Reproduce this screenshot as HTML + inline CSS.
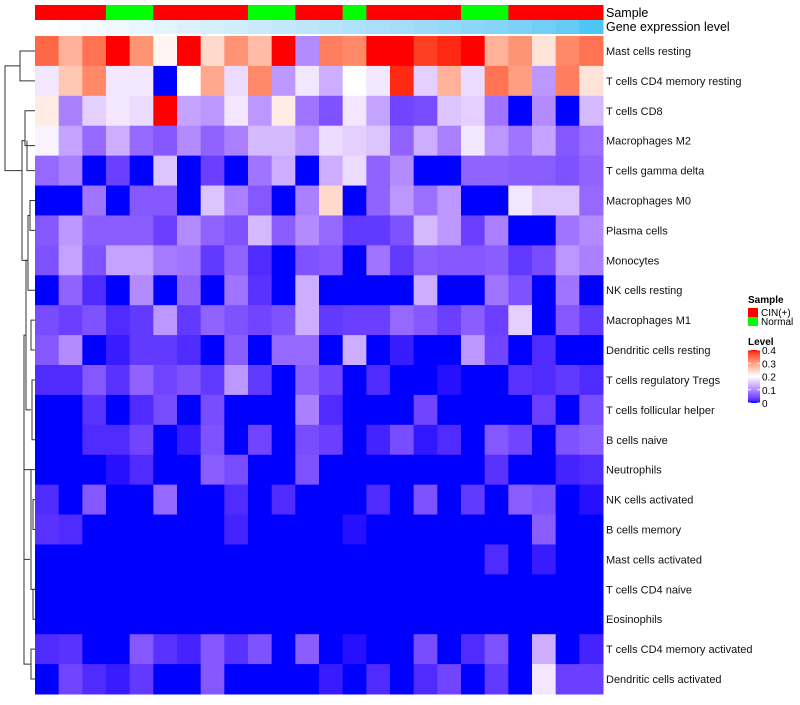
<!DOCTYPE html>
<html><head><meta charset="utf-8"><style>
body{margin:0;background:#fff;font-family:"Liberation Sans",sans-serif;}
svg text{font-family:"Liberation Sans",sans-serif;}
</style></head><body>
<svg id="chart" width="800" height="700" xmlns="http://www.w3.org/2000/svg">
<g id="dendro" stroke="#333" fill="none" stroke-width="1"></g>
<g id="anno"></g>
<g id="cells"></g>
<g id="labels"></g>
<g id="legend"></g>
</svg>
<script>
const rowNames = ["Mast cells resting","T cells CD4 memory resting","T cells CD8","Macrophages M2","T cells gamma delta","Macrophages M0","Plasma cells","Monocytes","NK cells resting","Macrophages M1","Dendritic cells resting","T cells regulatory  Tregs","T cells follicular helper","B cells naive","Neutrophils","NK cells activated","B cells memory","Mast cells activated","T cells CD4 naive","Eosinophils","T cells CD4 memory activated","Dendritic cells activated"];
const sampleGroup = ["CIN(+)","CIN(+)","CIN(+)","Normal","Normal","CIN(+)","CIN(+)","CIN(+)","CIN(+)","Normal","Normal","CIN(+)","CIN(+)","Normal","CIN(+)","CIN(+)","CIN(+)","CIN(+)","Normal","Normal","CIN(+)","CIN(+)","CIN(+)","CIN(+)"];
const geneLevel = [0,0.04,0.08,0.12,0.16,0.2,0.24,0.28,0.32,0.36,0.4,0.44,0.48,0.52,0.56,0.6,0.64,0.68,0.72,0.76,0.8,0.86,0.92,1];
const legendTicks = [0.4,0.3,0.2,0.1,0];
const legendTickLabels = ["0.4","0.3","0.2","0.1","0"];
const r01=[0.35,0.28,0.34,0.4,0.31,0.21,0.4,0.24,0.31,0.27,0.4,0.1,0.33,0.32,0.4,0.4,0.38,0.39,0.4,0.28,0.31,0.23,0.32,0.34];
const r02=[0.18,0.26,0.32,0.18,0.18,0,0.2,0.29,0.17,0.32,0.11,0.18,0.13,0.2,0.18,0.39,0.16,0.28,0.17,0.34,0.3,0.11,0.33,0.23];
const r03=[0.22,0.09,0.16,0.18,0.17,0.4,0.12,0.11,0.18,0.11,0.22,0.08,0.05,0.18,0.12,0.04,0.045,0.15,0.16,0.08,0,0.1,0,0.14];
const r04=[0.19,0.12,0.07,0.13,0.07,0.055,0.1,0.065,0.09,0.14,0.14,0.11,0.17,0.16,0.15,0.065,0.13,0.09,0.18,0.11,0.08,0.12,0.055,0.075];
const r05=[0.07,0.09,0,0.035,0,0.15,0,0.035,0,0.08,0.13,0,0.13,0.17,0.065,0.1,0,0,0.065,0.065,0.06,0.06,0.05,0.065];
const r06=[0,0,0.08,0,0.055,0.055,0,0.15,0.09,0.055,0,0.09,0.24,0,0.065,0.11,0.075,0.11,0,0,0.18,0.15,0.15,0.07];
const r07=[0.055,0.11,0.06,0.06,0.06,0.035,0.1,0.065,0.05,0.14,0.06,0.1,0.07,0.03,0.03,0.05,0.14,0.11,0.035,0.09,0,0,0.08,0.1];
const r08=[0.05,0.12,0.05,0.12,0.12,0.085,0.08,0.03,0.065,0.02,0,0.05,0.055,0,0.08,0.03,0.06,0.055,0.055,0.06,0.03,0.045,0.11,0.09];
const r09=[0,0.065,0.02,0,0.1,0,0.065,0,0.08,0.025,0,0.13,0,0,0,0,0.13,0,0,0.08,0.05,0,0.08,0];
const r10=[0.045,0.035,0.05,0.02,0.03,0.11,0.03,0.065,0.05,0.04,0.05,0.13,0.03,0.035,0.035,0.07,0.055,0.035,0.06,0.035,0.16,0,0.055,0.03];
const r11=[0.055,0.1,0,0.01,0.03,0.03,0.02,0,0.06,0,0.07,0.07,0,0.13,0,0.01,0,0,0.11,0.04,0,0.02,0,0];
const r12=[0.02,0.02,0.055,0.025,0.065,0.04,0.05,0.03,0.11,0.03,0,0.06,0.04,0,0.02,0,0,0.005,0,0,0.025,0.02,0.03,0.02];
const r13=[0,0,0.025,0,0.02,0.045,0,0.045,0,0,0,0.09,0.02,0,0,0,0.04,0,0,0,0,0.035,0,0.045];
const r14=[0,0,0.02,0.02,0.04,0,0.01,0.05,0,0.04,0,0.045,0.035,0,0.015,0.045,0.008,0.02,0,0.055,0.04,0,0.05,0.06];
const r15=[0,0,0,0.005,0.02,0,0,0.06,0.045,0,0,0.05,0,0,0,0,0,0,0,0.025,0,0,0.015,0.02];
const r16=[0.02,0,0.055,0,0,0.07,0,0,0.02,0,0.02,0,0,0,0.02,0,0.05,0,0.03,0,0.06,0.05,0,0.005];
const r17=[0.025,0.02,0,0,0,0,0,0,0.015,0,0,0,0,0.005,0,0,0,0,0,0,0,0.06,0,0];
const r18=[0,0,0,0,0,0,0,0,0,0,0,0,0,0,0,0,0,0,0,0.02,0,0.01,0,0];
const r19=[0,0,0,0,0,0,0,0,0,0,0,0,0,0,0,0,0,0,0,0,0,0,0,0];
const r20=[0,0,0,0,0,0,0,0,0,0,0,0,0,0,0,0,0,0,0,0,0,0,0,0];
const r21=[0.02,0.025,0,0,0.055,0.025,0.015,0.055,0.025,0.05,0,0.06,0,0.005,0,0,0.045,0,0.02,0.05,0,0.13,0,0.015];
const r22=[0,0.04,0.02,0.01,0.03,0,0,0.055,0,0,0,0,0.01,0,0.02,0,0.02,0.04,0,0.03,0,0.18,0.035,0.035];
const values=[r01,r02,r03,r04,r05,r06,r07,r08,r09,r10,r11,r12,r13,r14,r15,r16,r17,r18,r19,r20,r21,r22];

const NS="http://www.w3.org/2000/svg";
const X0=35,X1=603,Y0=36,Y1=694;
const nC=sampleGroup.length,nR=rowNames.length;
const cw=(X1-X0)/nC,rh=(Y1-Y0)/nR;
const xPos=i=>X0+i*cw, yPos=j=>Y0+j*rh;
function toLin(c){c/=255;return c<=0.04045?c/12.92:Math.pow((c+0.055)/1.055,2.4);}
function fromLin(c){c=c<=0.0031308?12.92*c:1.055*Math.pow(c,1/2.4)-0.055;return Math.max(0,Math.min(255,Math.round(c*255)));}
function rgb2lab(r,g,b){r=toLin(r);g=toLin(g);b=toLin(b);
let x=(0.4124*r+0.3576*g+0.1805*b)/0.95047,y=0.2126*r+0.7152*g+0.0722*b,z=(0.0193*r+0.1192*g+0.9505*b)/1.08883;
const f=t=>t>0.008856?Math.cbrt(t):7.787*t+16/116;x=f(x);y=f(y);z=f(z);return[116*y-16,500*(x-y),200*(y-z)];}
function lab2rgb(L,a,b){let y=(L+16)/116,x=a/500+y,z=y-b/200;const fi=t=>t*t*t>0.008856?t*t*t:(t-16/116)/7.787;
x=fi(x)*0.95047;y=fi(y);z=fi(z)*1.08883;
const r=3.2406*x-1.5372*y-0.4986*z,g=-0.9689*x+1.8758*y+0.0415*z,bb=0.0557*x-0.2040*y+1.0570*z;
return`rgb(${fromLin(r)},${fromLin(g)},${fromLin(bb)})`;}
const LB=rgb2lab(0,0,255),LW=rgb2lab(255,255,255),LR=rgb2lab(255,0,0);
function colorOf(v){v=Math.max(0,Math.min(0.4,v));let a,b,t;if(v<=0.2){a=LB;b=LW;t=v/0.2;}else{a=LW;b=LR;t=(v-0.2)/0.2;}
return lab2rgb(a[0]+(b[0]-a[0])*t,a[1]+(b[1]-a[1])*t,a[2]+(b[2]-a[2])*t);}
const LS=rgb2lab(255,255,255),LE=rgb2lab(76,198,244);
function geneColor(t){return lab2rgb(LS[0]+(LE[0]-LS[0])*t,LS[1]+(LE[1]-LS[1])*t,LS[2]+(LE[2]-LS[2])*t);}
function mk(tag,attrs,parent){const e=document.createElementNS(NS,tag);for(const k in attrs)e.setAttribute(k,attrs[k]);parent.appendChild(e);return e;}

const cells=document.getElementById('cells');
values.forEach((row,j)=>row.forEach((v,i)=>{
 const r=mk('rect',{x:xPos(i),y:yPos(j),width:cw+0.5,height:rh+0.5,fill:colorOf(v)},cells);
 
 
}));
const anno=document.getElementById('anno');
sampleGroup.forEach((g,i)=>{
 const r=mk('rect',{x:xPos(i),y:5,width:cw+0.5,height:15,fill:g==="Normal"?"#00ff00":"#ff0000"},anno);
 
 
 const r2=mk('rect',{x:xPos(i),y:20,width:cw+0.5,height:14,fill:geneColor(geneLevel[i])},anno);
 
 
});
let t=mk('text',{x:606,y:17,'font-size':12.5,fill:'#000'},anno);t.textContent="Sample";


t=mk('text',{x:606,y:31,'font-size':12.5,fill:'#000'},anno);t.textContent="Gene expression level";


const labels=document.getElementById('labels');
rowNames.forEach((n,j)=>{
 const e=mk('text',{x:606,y:yPos(j)+rh/2+4,'font-size':11,fill:'#111'},labels);
 e.textContent=n;
 
 
});
const dg=document.getElementById('dendro');
const cy=j=>yPos(j)+rh/2;
function seg(d){mk('path',{d:d},dg);}
seg(`M35 ${cy(0)} H20 V${cy(1)} H35`);
seg(`M35 ${cy(2)} H25 V${cy(3)+5} H35`);
seg(`M27 ${cy(3)} H27 V${cy(4)} H35`);
seg(`M25 ${(cy(2)+cy(4))/2} H22 V${cy(7)} H27`);
seg(`M35 ${cy(5)} H30 V${cy(6)} H35`);
seg(`M30 ${cy(5.5)} H28 V${cy(8)} H35`);
seg(`M35 ${cy(9)} H31 V${cy(10)} H35`);
seg(`M28 ${cy(7)} H26 V${cy(12)} H31`);
seg(`M35 ${cy(11)} H32 V${cy(13)} H35`);
seg(`M26 ${cy(9.5)} H24 V${cy(17)} H30`);
seg(`M35 ${cy(14)} H31 V${cy(18)} H35`);
seg(`M35 ${cy(15)} H33 V${cy(16)} H35`);
seg(`M35 ${cy(18)} H33 V${cy(19)} H35`);
seg(`M35 ${cy(20)} H31 V${cy(21)} H35`);
seg(`M31 ${cy(20.5)} H24 V${cy(14)} H31`);
seg(`M22 ${cy(4)} H5 V${cy(0.5)} H20`);
const lg=document.getElementById('legend');
t=mk('text',{x:748,y:303,'font-size':10,'font-weight':'bold'},lg);t.textContent="Sample";


[["CIN(+)","#ff0000",308],["Normal","#00ff00",317]].forEach(([n,c,y])=>{
 const r=mk('rect',{x:748,y:y,width:10,height:9,fill:c},lg);
 
 
 const tx=mk('text',{x:761,y:y+8,'font-size':10},lg);tx.textContent=n;
 
 
});
t=mk('text',{x:748,y:345,'font-size':10,'font-weight':'bold'},lg);t.textContent="Level";


const defs=mk('defs',{},lg);
const grad=mk('linearGradient',{id:'lvl',x1:0,y1:0,x2:0,y2:1},defs);
for(let k=0;k<=20;k++){mk('stop',{offset:k/20,'stop-color':colorOf(0.4-0.4*k/20)},grad);}
const LT=350,LBm=403;
const bar=mk('rect',{x:748,y:LT,width:12,height:LBm-LT,fill:'url(#lvl)'},lg);


legendTicks.forEach((v,k)=>{
 const y=LBm-(v/0.4)*(LBm-LT);
 mk('line',{x1:748,x2:751,y1:y,y2:y,stroke:'#fff'},lg);
 mk('line',{x1:757,x2:760,y1:y,y2:y,stroke:'#fff'},lg);
 const tx=mk('text',{x:762,y:y+4,'font-size':10},lg);tx.textContent=legendTickLabels[k];
 
 
});
</script>
</body></html>
